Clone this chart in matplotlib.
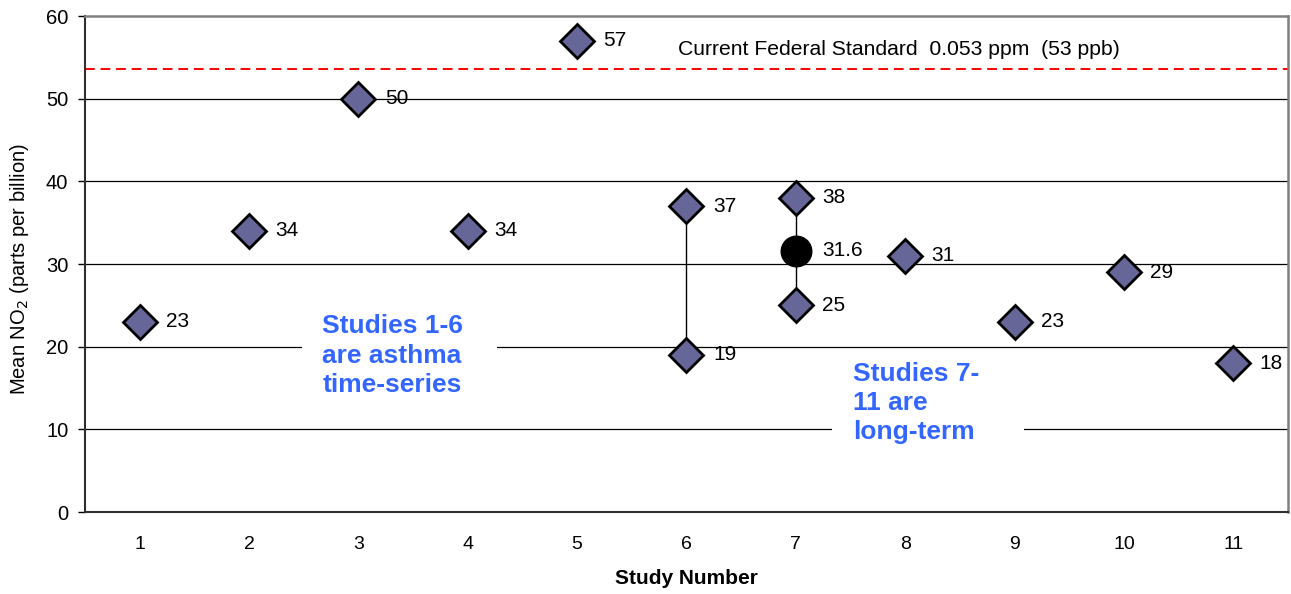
import matplotlib.pyplot as plt
from matplotlib.patches import Rectangle

plt.rcParams['font.family'] = ['Liberation Sans', 'DejaVu Sans']

# study results (mean NO2, ppb)
studies = [1, 2, 3, 4, 5, 6, 6, 7, 7, 8, 9, 10, 11]
no2_means = [23, 34, 50, 34, 57, 37, 19, 38, 25, 31, 23, 29, 18]

# studies that reported a range
range_studies = [6, 7]
range_low = [19, 25]
range_high = [37, 38]

# average for study 7
avg_study = [7]
avg_value = [31.6]

standard_ppb = 53.6
standard_label = 'Current Federal Standard  0.053 ppm  (53 ppb)'

fig = plt.figure(figsize=(12.91, 5.94), dpi=100)
ax = fig.add_axes([0.0658, 0.138, 0.9319, 0.835])

ax.set_xlim(0.5, 11.5)
ax.set_ylim(0, 60)
ax.set_yticks(range(0, 61, 10))
ax.set_xticks(range(1, 12))

# gridlines
for y in range(10, 60, 10):
    ax.axhline(y, color='black', lw=0.9, zorder=1)

# red dashed standard line
ax.axhline(standard_ppb, color='#ff0000', lw=1.4, ls=(0, (5, 3)), zorder=2)
ax.text(5.92, 55.9, standard_label, fontsize=15.2, va='center', ha='left', zorder=3)

# range lines
ax.vlines(range_studies, range_low, range_high, color='black', lw=1, zorder=3)

# points
ax.plot(studies, no2_means, ls='none', marker='D', markersize=17.5,
        markerfacecolor='#666699', markeredgecolor='black', markeredgewidth=2, zorder=5)
ax.plot(avg_study, avg_value, ls='none', marker='o', markersize=22,
        markerfacecolor='black', markeredgecolor='black', zorder=5)

def fmt(v):
    return str(int(v)) if float(v).is_integer() else f'{v:.1f}'

for x, v in zip(studies + avg_study, no2_means + avg_value):
    ax.annotate(fmt(v), (x, v), xytext=(19, 0), textcoords='offset points',
                fontsize=15, va='center', ha='left', zorder=6)

# annotation text boxes (white background hides the gridlines)
blue = '#3366ff'
ax.add_patch(Rectangle((2.484, 12.95), 1.783, 12.7, facecolor='white',
                       edgecolor='none', zorder=3))
ax.add_patch(Rectangle((7.331, 6.9), 1.755, 12.7, facecolor='white',
                       edgecolor='none', zorder=3))
ax.text(2.67, 23.9, 'Studies 1-6\nare asthma\ntime-series', color=blue,
        fontsize=19, fontweight='bold', va='top', ha='left', linespacing=1.28,
        zorder=4)
ax.text(7.52, 18.2, 'Studies 7-\n11 are\nlong-term', color=blue,
        fontsize=19, fontweight='bold', va='top', ha='left', linespacing=1.28,
        zorder=4)

# spines and ticks
for side in ['top', 'right']:
    ax.spines[side].set_color('#808080')
    ax.spines[side].set_linewidth(1.8)
for side in ['left', 'bottom']:
    ax.spines[side].set_color('#303030')
    ax.spines[side].set_linewidth(1.5)
ax.tick_params(axis='y', length=5, width=1, labelsize=14.5, pad=7, colors='black')
ax.tick_params(axis='x', length=0, labelsize=14, pad=17)

ax.set_ylabel('Mean NO$_2$ (parts per billion)', fontsize=14.5)
ax.yaxis.set_label_coords(-0.045, 0.49)
ax.set_xlabel('Study Number', fontsize=15, fontweight='bold')
ax.xaxis.set_label_coords(0.5, -0.114)

fig.savefig('out.png', dpi=100)
